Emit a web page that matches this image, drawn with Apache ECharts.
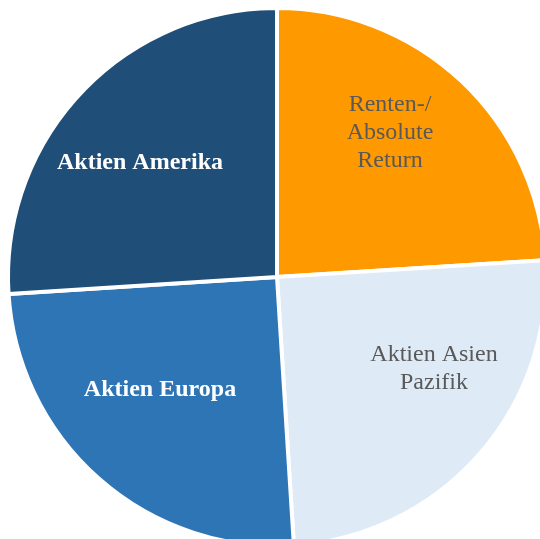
<!DOCTYPE html>
<html>
<head>
<meta charset="utf-8">
<script src="https://cdn.jsdelivr.net/npm/echarts@6/dist/echarts.min.js"></script>
<style>
  html, body { margin: 0; padding: 0; background: #fff; }
  #chart { width: 540px; height: 539px; }
</style>
</head>
<body>
<div id="chart"></div>
<script>
var categories = ['Renten-/\nAbsolute\nReturn', 'Aktien Asien\nPazifik', 'Aktien Europa', 'Aktien Amerika']
var values = [24, 25, 25, 26]
var colors = ['#ff9900', '#deebf7', '#2e75b6', '#1f4e79']
var labelColors = ['#595959', '#595959', '#ffffff', '#ffffff']
var labelWeights = ['normal', 'normal', 'bold', 'bold']
// where the labels sit, Excel style
var labelPos = [[390, 133], [434, 369], [160, 390], [140, 163]]

var myChart = echarts.init(document.getElementById('chart'))
var option = {
  animation: false,
  series: [
    {
      type: 'pie',
      center: [277, 277],
      radius: 269,
      startAngle: 90,
      clockwise: true,
      itemStyle: {
        borderColor: '#ffffff',
        borderWidth: 4
      },
      label: {
        position: 'inside',
        fontFamily: 'Liberation Serif',
        fontSize: 24,
        lineHeight: 28,
        align: 'center',
        verticalAlign: 'middle',
        formatter: '{b}'
      },
      labelLayout: function (params) {
        var p = labelPos[params.dataIndex]
        return { x: p[0], y: p[1], align: 'center', verticalAlign: 'middle' }
      },
      emphasis: { disabled: true },
      data: categories.map(function (name, i) {
        return {
          name: name,
          value: values[i],
          itemStyle: { color: colors[i] },
          label: { color: labelColors[i], fontWeight: labelWeights[i] }
        }
      })
    }
  ]
}

myChart.setOption(option)
</script>
</body>
</html>
